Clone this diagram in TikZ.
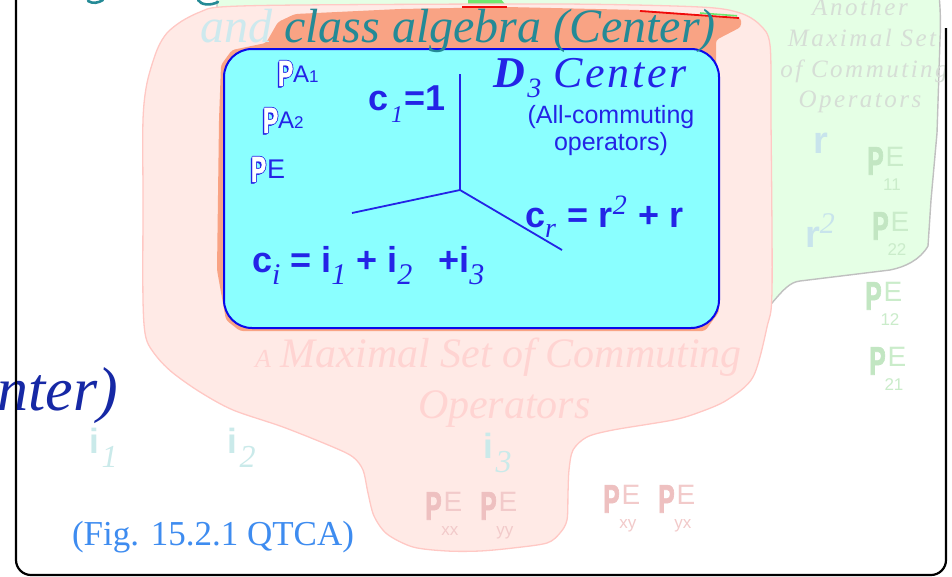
\documentclass[tikz,border=0pt]{standalone}
\usepackage{fontspec}
\usepackage{graphicx}
\setmainfont{Liberation Serif}
\setsansfont{Liberation Sans}
\newfontfamily\lsser[LetterSpace=6]{Liberation Serif}
\newfontfamily\lsgrey[LetterSpace=10]{Liberation Serif}
\newfontfamily\heavyP[FakeBold=1.6,FakeStretch=0.62]{Liberation Sans}
\newcommand{\fsz}[1]{\fontsize{#1}{#1}\selectfont}
\definecolor{cyanfill}{RGB}{138,255,255}
\definecolor{boxblue}{RGB}{10,10,235}
\definecolor{tblue}{RGB}{36,36,230}
\definecolor{salmonfill}{RGB}{249,163,132}
\definecolor{pinkfill}{RGB}{255,234,230}
\definecolor{pinkedge}{RGB}{255,200,196}
\definecolor{greenfill}{RGB}{229,255,229}
\definecolor{greenedge}{RGB}{192,192,192}
\definecolor{brightgreen}{RGB}{110,232,110}
\definecolor{tealtxt}{RGB}{36,138,150}
\definecolor{paleteal}{RGB}{205,233,238}
\definecolor{pinktxt}{RGB}{255,212,210}
\definecolor{pinkPE}{RGB}{242,202,202}
\definecolor{pinkPEp}{RGB}{238,192,192}
\definecolor{greenPE}{RGB}{202,236,202}
\definecolor{greenPEp}{RGB}{194,230,194}
\definecolor{greytxt}{RGB}{214,222,214}
\definecolor{paleblue}{RGB}{200,228,236}
\definecolor{palecyan}{RGB}{202,234,234}
\definecolor{darkblue}{RGB}{22,40,165}
\definecolor{figblue}{RGB}{62,140,240}
\definecolor{redline}{RGB}{240,10,10}
\newcommand{\hvP}{{\heavyP\bfseries P}}
\newcommand{\wP}{%
\makebox[0pt][l]{\kern-1.6pt\raisebox{-1.6pt}{\color{tblue}\hvP}}%
\makebox[0pt][l]{\kern-0.8pt{\color{tblue}\hvP}}%
\makebox[0pt][l]{\kern0.8pt{\color{tblue}\hvP}}%
\makebox[0pt][l]{\raisebox{0.8pt}{\color{tblue}\hvP}}%
\makebox[0pt][l]{\raisebox{-0.8pt}{\color{tblue}\hvP}}%
{\color{white}\hvP}}
\newcommand{\PEnode}[6]{%
  \node[pep, text=#5] (#1P) at (#2,#3) {\hvP};
  \node[pee, text=#6] (#1E) at ([xshift=1.5pt]#1P.north east) {E};
  \node[pes, text=#6] (#1S) at ([xshift=-3pt,yshift=-24pt]#1E.south) {#4};}
\begin{document}
\begin{tikzpicture}[x=1pt,y=-1pt,
  txt/.style={inner sep=0pt, outer sep=0pt, anchor=base west},
  ctxt/.style={inner sep=0pt, outer sep=0pt, anchor=base},
  pep/.style={inner sep=0pt, anchor=north west, font=\fsz{40}},
  pee/.style={inner sep=0pt, anchor=north west, font=\sffamily\fsz{28}},
  pes/.style={inner sep=0pt, anchor=base, font=\sffamily\fsz{17}},
  axis/.style={draw=tblue, line width=1.8pt},
]
\fill[white] (0,0) rectangle (952,576);
\useasboundingbox (0,0) rectangle (952,576);

% green blob (another maximal set)
\filldraw[fill=greenfill, draw=greenedge, line width=1.4pt]
  (217,-5) -- (217,12) -- (700,15) -- (750,40) -- (765,300) -- (772,303)
  .. controls (783,290) and (790,282) .. (800,281) -- (890,270)
  .. controls (905,267) and (920,260) .. (928,246) -- (931,200) -- (937,133)
  -- (940,40) .. controls (941,20) and (940,5) .. (939,-5) -- cycle;
\fill[brightgreen] (468,-2) -- (500,-2) -- (508,8) -- (468,8) -- cycle;

% partial teal glyphs of a cut-off line above
\draw[tealtxt, line width=2.6pt, line cap=round] (88,1) .. controls (93,4) and (98,3) .. (103,0);
\draw[tealtxt, line width=2.6pt, line cap=round] (198,0) .. controls (201,5) and (210,6) .. (218,2);

% pink blob (a maximal set)
\filldraw[fill=pinkfill, draw=pinkedge, line width=1.3pt]
  plot[smooth cycle, tension=0.5] coordinates {
  (143,120) (147,83) (157,50) (167,33) (182,21) (200,12) (220,7) (300,5)
  (560,4) (700,7) (740,13) (760,25) (770,45) (771,120) (772,290) (767,327)
  (753,377) (727,400) (700,412) (673,420) (613,430) (587,437) (573,450)
  (569,470) (568,493) (567,520) (560,533) (547,543) (513,548) (480,551)
  (447,551) (413,547) (387,534) (374,516) (368,493) (363,470) (353,457)
  (333,447) (283,427) (233,410) (200,392) (173,373) (157,357) (146,338)
  (143,300) (143,200)};

% salmon (class algebra)
\fill[salmonfill, rounded corners=3pt]
  (278,22) -- (295,14) -- (400,9) -- (507,7) -- (640,10) -- (741,18) -- (741,27)
  -- (716,40) -- (719,312) -- (705,331) -- (240,331) -- (226,320) -- (217,270)
  -- (219,120) -- (221,65) -- (232,50) -- (266,43) -- cycle;
\draw[redline, line width=1.8pt] (462,7) -- (507,7);
\draw[redline, line width=1.8pt] (640,11) -- (739,18);
\draw[brightgreen, line width=1.6pt] (700,13) -- (737,15.8);

% center box
\node[draw=boxblue, line width=2pt, fill=cyanfill, rounded corners=28pt,
  minimum width=495pt, minimum height=279pt, inner sep=0pt, anchor=north west]
  (cbox) at (223,48) {};

% title line
\node[txt, font=\fsz{48}\itshape] (alg) at (200,42)
  {\textcolor{paleteal}{and }\textcolor{tealtxt}{class algebra (Center)}};

% inside box
\node[inner sep=0pt, anchor=north west, font=\fsz{36}] (pa1P) at (278,60) {\wP};
\node[txt, text=tblue, font=\sffamily\fsz{24}] (pa1A) at (293,82) {A{\fsz{17}1}};
\node[inner sep=0pt, anchor=north west, font=\fsz{36}] (pa2P) at (263,107) {\wP};
\node[txt, text=tblue, font=\sffamily\fsz{24}] (pa2A) at (278,128) {A{\fsz{17}2}};
\node[inner sep=0pt, anchor=north west, font=\fsz{36}] (peP) at (251,156) {\wP};
\node[txt, text=tblue, font=\sffamily\fsz{27}] (peE) at (267,178) {E};

\node[txt, text=tblue, font=\sffamily\bfseries\fsz{36}] (c1) at (368,110)
  {c\kern3pt\raisebox{-12pt}{\rmfamily\mdseries\itshape\fsz{24}1}\kern1pt=1};
\node[txt, text=tblue, font=\lsser\fsz{44}] (d3) at (493,87)
  {\textbf{\textit{D}}\raisebox{-10pt}{\fsz{28}\itshape 3}\kern12pt\textit{Center}};
\node[ctxt, text=tblue, font=\sffamily\fsz{25}] (allc1) at (611,123) {(All-commuting};
\node[ctxt, text=tblue, font=\sffamily\fsz{25}] (allc2) at (611,150) {operators)};

\coordinate (ax0) at (460,190);
\coordinate (axu) at (460,74);
\coordinate (axl) at (352,213);
\coordinate (axr) at (562,250);
\draw[axis] (axu) -- (ax0) -- (axl);
\draw[axis] (ax0) -- (axr);

\node[txt, text=tblue, font=\sffamily\bfseries\fsz{36}] (cr) at (525,227)
  {c\raisebox{-10pt}{\rmfamily\mdseries\itshape\fsz{28}r}\kern2pt{} = r\raisebox{13pt}{\rmfamily\mdseries\itshape\fsz{28}2}\kern2pt{} + r};
\node[txt, text=tblue, font=\sffamily\bfseries\fsz{36}] (ci) at (252,272)
  {c\raisebox{-12pt}{\rmfamily\mdseries\itshape\fsz{30}i} = i\raisebox{-12pt}{\rmfamily\mdseries\itshape\fsz{30}1} + i\raisebox{-12pt}{\rmfamily\mdseries\itshape\fsz{30}2}\kern16pt\ +i\raisebox{-12pt}{\rmfamily\mdseries\itshape\fsz{30}3}};

% pink texts
\node[txt, text=pinktxt, font=\itshape\fsz{42}] (maxset) at (255,367)
  {{\fsz{26}A}\kern10pt Maximal Set of Commuting};
\node[txt, text=pinktxt, font=\itshape\fsz{42}] (ops) at (418,418) {Operators};

% grey texts (another maximal set)
\node[ctxt, text=greytxt, font=\lsgrey\itshape\fsz{25}] (an1) at (860,15) {Another};
\node[ctxt, text=greytxt, font=\lsgrey\itshape\fsz{25}] (an2) at (862,46) {Maximal Set};
\node[ctxt, text=greytxt, font=\lsgrey\itshape\fsz{25}] (an3) at (864,77) {of Commuting};
\node[ctxt, text=greytxt, font=\lsgrey\itshape\fsz{25}] (an4) at (860,107) {Operators};

% r, r^2
\node[txt, text=paleblue, font=\sffamily\bfseries\fsz{38}] (r1) at (813,153) {r};
\node[txt, text=paleblue, font=\sffamily\bfseries\fsz{38}] (r2) at (805,247)
  {r\raisebox{14pt}{\rmfamily\mdseries\itshape\fsz{30}2}};

% PE projectors
\PEnode{g11}{867}{147}{11}{greenPEp}{greenPE}
\PEnode{g22}{872}{212}{22}{greenPEp}{greenPE}
\PEnode{g12}{865}{282}{12}{greenPEp}{greenPE}
\PEnode{g21}{869}{347}{21}{greenPEp}{greenPE}
\PEnode{pxx}{425}{492}{xx}{pinkPEp}{pinkPE}
\PEnode{pyy}{480}{492}{yy}{pinkPEp}{pinkPE}
\PEnode{pxy}{603}{485}{xy}{pinkPEp}{pinkPE}
\PEnode{pyx}{658}{485}{yx}{pinkPEp}{pinkPE}

% i1 i2 i3
\node[txt, text=palecyan, font=\sffamily\bfseries\fsz{35}] (i1) at (89,453)
  {i\kern3pt\raisebox{-14pt}{\rmfamily\mdseries\itshape\fsz{32}1}};
\node[txt, text=palecyan, font=\sffamily\bfseries\fsz{35}] (i2) at (227,453)
  {i\kern3pt\raisebox{-14pt}{\rmfamily\mdseries\itshape\fsz{32}2}};
\node[txt, text=palecyan, font=\sffamily\bfseries\fsz{35}] (i3) at (483,458)
  {i\kern3pt\raisebox{-14pt}{\rmfamily\mdseries\itshape\fsz{32}3}};

% left cut-off title
\node[inner sep=0pt, anchor=base east, text=darkblue, font=\itshape\fsz{62}] (nter) at (118,410) {nter)};

% figure reference
\node[txt, text=figblue, font=\fsz{35}] (fig) at (72,545) {(Fig. 15.2.1 QTCA)};

% frame
\draw[black, line width=2.2pt, rounded corners=15pt] (16,-5) -- (16,575) -- (946,575) -- (946,28);
\end{tikzpicture}
\end{document}
